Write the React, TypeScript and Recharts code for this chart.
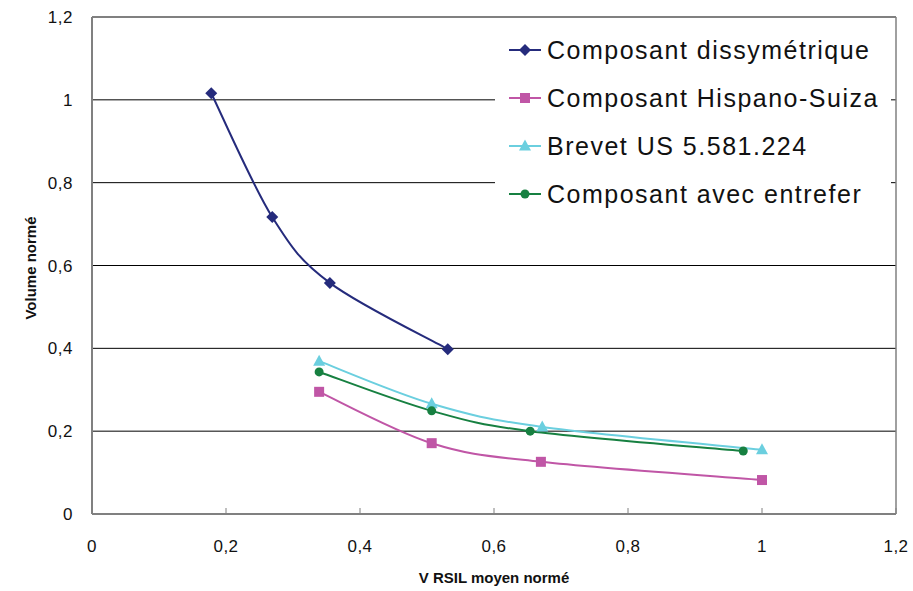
import React from "react"
import {
    CartesianGrid,
    Legend,
    Line,
    LineChart,
    ReferenceLine,
    XAxis,
    YAxis,
} from "recharts"

// values
const xDissym = [0.178, 0.269, 0.355, 0.531]
const yDissym = [1.016, 0.717, 0.558, 0.398]

const xHispano = [0.339, 0.507, 0.67, 1.0]
const yHispano = [0.295, 0.171, 0.126, 0.082]

const xBrevet = [0.339, 0.507, 0.672, 1.0]
const yBrevet = [0.369, 0.266, 0.21, 0.155]

const xEntrefer = [0.339, 0.507, 0.654, 0.972]
const yEntrefer = [0.343, 0.249, 0.2, 0.152]

const ticks = [0, 0.2, 0.4, 0.6, 0.8, 1, 1.2]

const FONT = '"Liberation Sans", Arial, sans-serif'

type Shape = "diamond" | "square" | "triangle" | "circle"

const toPoints = (xs: number[], ys: number[]) => xs.map((x, i) => ({ x, y: ys[i] }))

const series: { name: string; color: string; shape: Shape; data: { x: number; y: number }[] }[] = [
    { name: "Composant dissymétrique", color: "#252b7c", shape: "diamond", data: toPoints(xDissym, yDissym) },
    { name: "Composant Hispano-Suiza", color: "#c056a6", shape: "square", data: toPoints(xHispano, yHispano) },
    { name: "Brevet US 5.581.224", color: "#6bcfdf", shape: "triangle", data: toPoints(xBrevet, yBrevet) },
    { name: "Composant avec entrefer", color: "#178041", shape: "circle", data: toPoints(xEntrefer, yEntrefer) },
]

const fmt = (v: number) => String(v).replace(".", ",")

// Excel-like smoothed line (Catmull-Rom through the points)
const smoothCurve = (context: any) => {
    let pts: [number, number][] = []
    return {
        areaStart() {},
        areaEnd() {},
        lineStart() {
            pts = []
        },
        point(x: number, y: number) {
            pts.push([+x, +y])
        },
        lineEnd() {
            if (!pts.length) return
            context.moveTo(pts[0][0], pts[0][1])
            for (let i = 0; i < pts.length - 1; i++) {
                const p0 = pts[Math.max(i - 1, 0)]
                const p1 = pts[i]
                const p2 = pts[i + 1]
                const p3 = pts[Math.min(i + 2, pts.length - 1)]
                const k = 6
                context.bezierCurveTo(
                    p1[0] + (p2[0] - p0[0]) / k,
                    p1[1] + (p2[1] - p0[1]) / k,
                    p2[0] - (p3[0] - p1[0]) / k,
                    p2[1] - (p3[1] - p1[1]) / k,
                    p2[0],
                    p2[1]
                )
            }
        },
    }
}

function Marker({ cx, cy, shape, color }: { cx: number; cy: number; shape: Shape; color: string }) {
    if (shape === "diamond")
        return <polygon points={`${cx},${cy - 6} ${cx + 6},${cy} ${cx},${cy + 6} ${cx - 6},${cy}`} fill={color} />
    if (shape === "square") return <rect x={cx - 5} y={cy - 5} width={10} height={10} fill={color} />
    if (shape === "triangle")
        return <polygon points={`${cx},${cy - 6.5} ${cx + 6},${cy + 4.5} ${cx - 6},${cy + 4.5}`} fill={color} />
    return <circle cx={cx} cy={cy} r={4.5} fill={color} />
}

const XTick = (props: any) => {
    const { x, y, payload } = props
    return (
        <g>
            <line x1={x} y1={y} x2={x} y2={y - 6} stroke="#808080" strokeWidth={1} />
            <text x={x} y={y + 38} textAnchor="middle" fontSize={17} fill="#111" fontFamily={FONT} letterSpacing={0.5}>
                {fmt(payload.value)}
            </text>
        </g>
    )
}

const LegendBox = () => (
    <div style={{ background: "#fff", padding: "8px 0 8px 14px", fontFamily: FONT }}>
        {series.map((s) => (
            <div key={s.name} style={{ display: "flex", alignItems: "center", height: 48 }}>
                <svg width={32} height={16} style={{ marginRight: 6 }}>
                    <line x1={0} y1={8} x2={32} y2={8} stroke={s.color} strokeWidth={2} />
                    <Marker cx={16} cy={8} shape={s.shape} color={s.color} />
                </svg>
                <span style={{ fontSize: 25, letterSpacing: 1.5, color: "#111", whiteSpace: "nowrap" }}>{s.name}</span>
            </div>
        ))}
    </div>
)

export default function App() {
    return (
        <div style={{ position: "absolute", left: 0, top: 0, width: 913, height: 591, background: "#fff", fontFamily: FONT }}>
            <LineChart width={913} height={591} margin={{ top: 17, right: 17, bottom: 0, left: 0 }}>
                <CartesianGrid horizontal vertical={false} stroke="#000" strokeWidth={1} />
                <XAxis
                    dataKey="x"
                    type="number"
                    domain={[0, 1.2]}
                    ticks={ticks}
                    height={77}
                    tickSize={0}
                    tickMargin={0}
                    tick={<XTick />}
                    tickLine={false}
                    axisLine={{ stroke: "#808080", strokeWidth: 2 }}
                    allowDuplicatedCategory={false}
                    label={{
                        value: "V RSIL moyen normé",
                        position: "insideBottom",
                        offset: 8,
                        style: { fontSize: 15, fontWeight: "bold", fill: "#111", fontFamily: FONT },
                    }}
                />
                <YAxis
                    type="number"
                    domain={[0, 1.2]}
                    ticks={ticks}
                    width={92}
                    tickSize={0}
                    tickMargin={19}
                    tickLine={false}
                    tickFormatter={fmt}
                    tick={{ fontSize: 17, fill: "#111", fontFamily: FONT, letterSpacing: 0.5 }}
                    axisLine={{ stroke: "#808080", strokeWidth: 2 }}
                    label={{
                        content: () => (
                            <text
                                x={30}
                                y={268}
                                transform="rotate(-90 30 268)"
                                textAnchor="middle"
                                dominantBaseline="central"
                                fontSize={15}
                                fontWeight="bold"
                                fill="#111"
                                fontFamily={FONT}
                            >
                                Volume normé
                            </text>
                        ),
                    }}
                />
                <ReferenceLine y={1.2} stroke="#808080" strokeWidth={1.5} />
                <ReferenceLine x={1.2} stroke="#808080" strokeWidth={1.5} />
                <Legend
                    layout="vertical"
                    align="center"
                    verticalAlign="middle"
                    content={<LegendBox />}
                    wrapperStyle={{ left: 495, top: 18, width: 396, height: 200 }}
                />
                {series.map((s) => (
                    <Line
                        key={s.name}
                        data={s.data}
                        dataKey="y"
                        name={s.name}
                        type={smoothCurve as any}
                        stroke={s.color}
                        strokeWidth={2}
                        isAnimationActive={false}
                        dot={(p: any) => (
                            <Marker key={`${s.name}-${p.index}`} cx={p.cx} cy={p.cy} shape={s.shape} color={s.color} />
                        )}
                        activeDot={false}
                    />
                ))}
            </LineChart>
        </div>
    )
}
